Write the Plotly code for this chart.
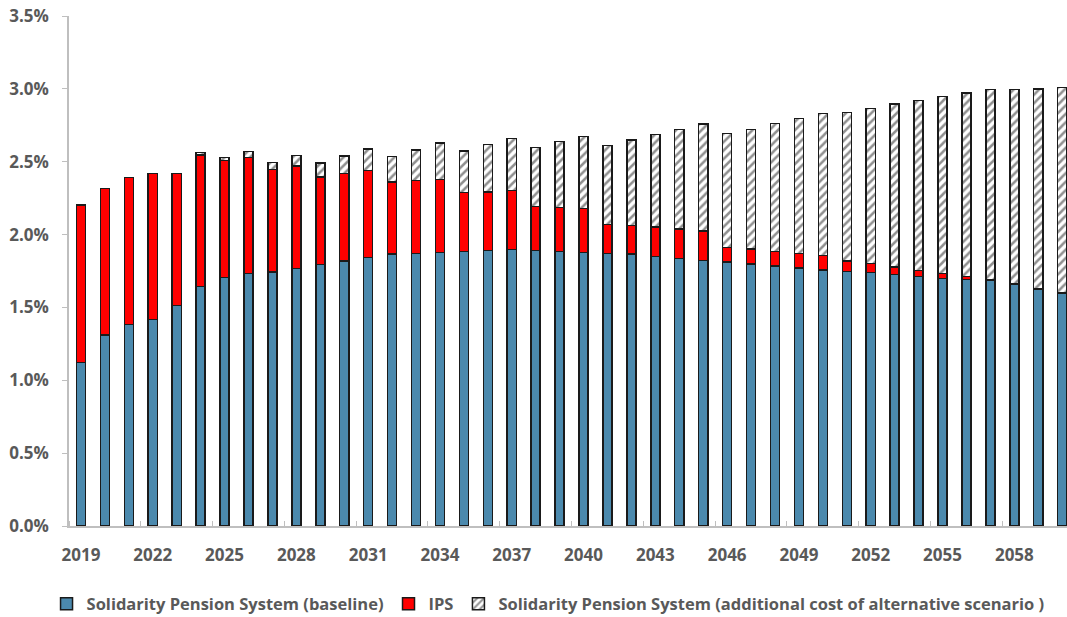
import plotly.graph_objects as go

years = list(range(2019, 2061))

# Solidarity Pension System (baseline), % of GDP
baseline = [1.121, 1.311, 1.384, 1.416, 1.512, 1.645, 1.704, 1.732, 1.743, 1.768,
            1.796, 1.819, 1.842, 1.865, 1.871, 1.878, 1.885, 1.892, 1.899, 1.892,
            1.885, 1.878, 1.871, 1.867, 1.851, 1.837, 1.823, 1.812, 1.798, 1.784,
            1.771, 1.757, 1.748, 1.739, 1.727, 1.714, 1.700, 1.691, 1.688, 1.659,
            1.624, 1.597]

# Top of IPS segment (cumulative)
ips_top = [2.203, 2.315, 2.391, 2.420, 2.418, 2.546, 2.507, 2.530, 2.448, 2.471,
           2.395, 2.420, 2.441, 2.361, 2.372, 2.379, 2.288, 2.292, 2.301, 2.192,
           2.185, 2.178, 2.070, 2.064, 2.052, 2.038, 2.025, 1.913, 1.901, 1.885,
           1.871, 1.858, 1.819, 1.803, 1.778, 1.755, 1.734, 1.711, 1.692, 1.663,
           1.628, 1.601]

# Total height (cumulative)
total_top = [2.203, 2.315, 2.391, 2.420, 2.418, 2.564, 2.530, 2.569, 2.494, 2.541,
             2.491, 2.539, 2.587, 2.537, 2.580, 2.629, 2.574, 2.617, 2.661, 2.599,
             2.638, 2.674, 2.613, 2.649, 2.688, 2.722, 2.759, 2.692, 2.722, 2.763,
             2.798, 2.832, 2.839, 2.864, 2.896, 2.921, 2.949, 2.972, 2.994, 2.994,
             2.999, 3.008]

ips = [t - b for t, b in zip(ips_top, baseline)]
alt = [max(t - i, 0) for t, i in zip(total_top, ips_top)]

names = ["Solidarity Pension System (baseline)", "IPS",
         "Solidarity Pension System (additional cost of alternative scenario )"]

font_fam = "Open Sans"
grey = "#595959"
bw = 0.38
fsize = 17
lsize = 16.5

fig = go.Figure()
fig.add_trace(go.Bar(x=years, y=[v / 100 for v in baseline], name=names[0], width=bw,
                     marker=dict(color="#4b89ad", line=dict(color="#1a1a1a", width=1.5))))
fig.add_trace(go.Bar(x=years, y=[v / 100 for v in ips], name=names[1], width=bw,
                     marker=dict(color="#ff0000", line=dict(color="#1a1a1a", width=1.5))))
fig.add_trace(go.Bar(x=years, y=[v / 100 for v in alt], name=names[2], width=bw,
                     marker=dict(color="white", line=dict(color="#1a1a1a", width=1.5),
                                 pattern=dict(shape="/", fgcolor="#222222", bgcolor="white",
                                              fillmode="overlay", size=6, solidity=0.42))))

fig.update_layout(
    width=1067, height=617,
    barmode="stack",
    plot_bgcolor="white", paper_bgcolor="white",
    margin=dict(l=69, r=0, t=16, b=91, autoexpand=False),
    font=dict(family=font_fam, size=fsize, color=grey, weight="bold"),
    showlegend=True,
    legend=dict(orientation="h", x=0.48, xanchor="center", y=-0.153, yanchor="middle",
                traceorder="normal", font=dict(family=font_fam, size=lsize, color=grey, weight="bold"),
                itemwidth=30),
)

fig.update_xaxes(
    range=[2018.5, 2060.2],
    tickmode="array", tickvals=list(range(2019, 2061, 3)),
    ticktext=[str(y) for y in range(2019, 2061, 3)],
    ticks="", showline=True, linecolor="#bfbfbf", linewidth=1.5,
    showgrid=False, zeroline=False, automargin=False,
    ticklabelstandoff=13,
    minor=dict(tick0=2021.5, dtick=3, ticks="inside", ticklen=5, tickcolor="#bfbfbf", showgrid=False),
    tickfont=dict(family=font_fam, size=fsize, color=grey, weight="bold"),
)
fig.update_yaxes(
    range=[0, 0.035], tickmode="linear", tick0=0, dtick=0.005, tickformat=".1%",
    ticks="outside", ticklen=5, tickcolor="#bfbfbf",
    showline=True, linecolor="#bfbfbf", linewidth=1.5,
    showgrid=False, zeroline=False, automargin=False,
    ticklabelstandoff=10, ticklabeloverflow="allow",
    tickfont=dict(family=font_fam, size=fsize, color=grey, weight="bold"),
)

fig.write_html(
    "out.html",
    config={"displayModeBar": False},
    post_script="document.body.style.margin='0';document.body.style.overflow='hidden';",
)
